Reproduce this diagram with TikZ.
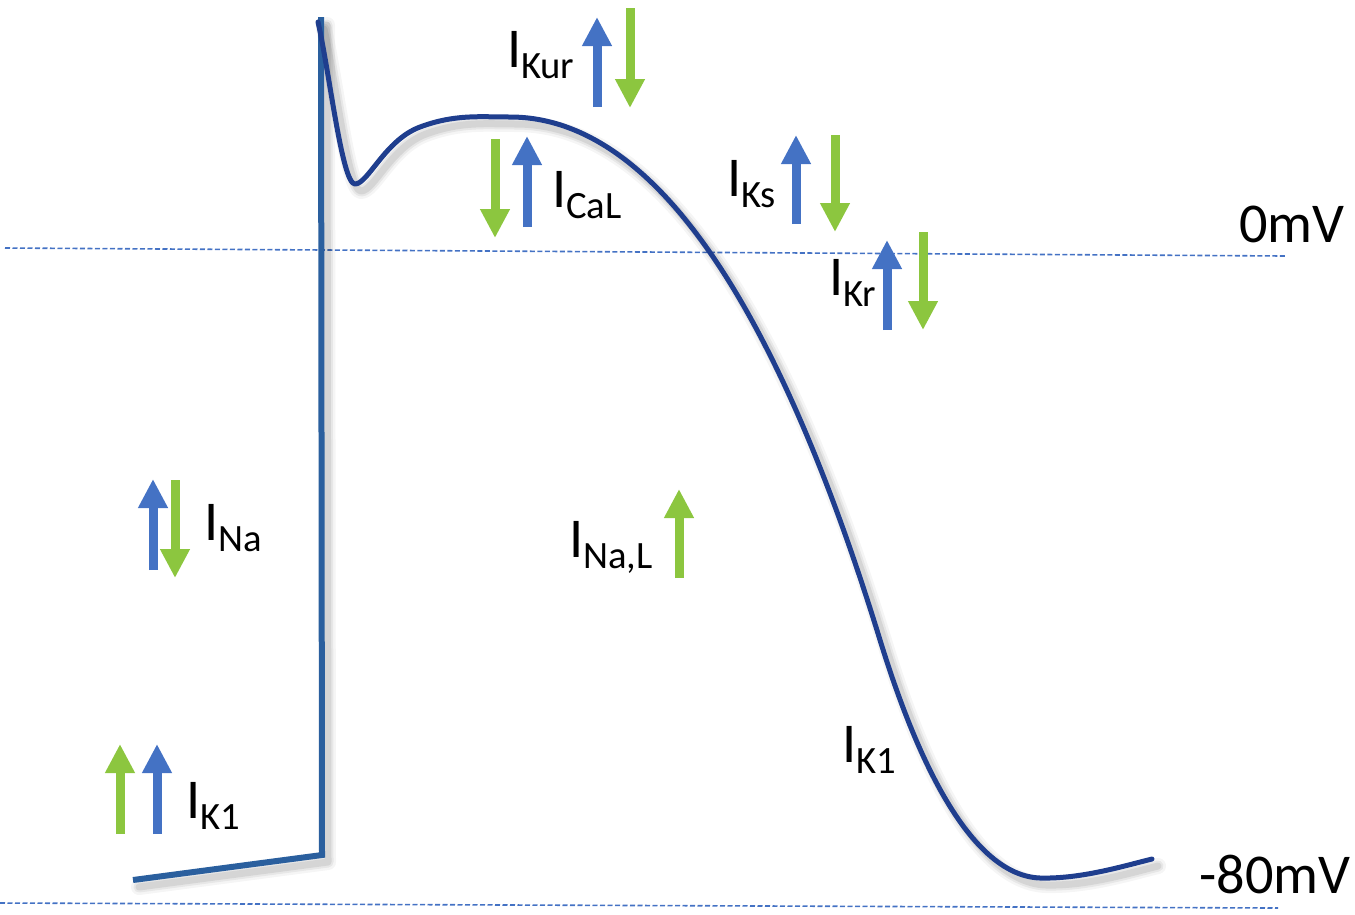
\documentclass[tikz,border=0pt]{standalone}
\usepackage{fontspec}
\setmainfont{Carlito}
\usetikzlibrary{arrows.meta}
\definecolor{curveblue}{HTML}{1F3E8E}
\definecolor{lineblue}{HTML}{2A5F9E}
\definecolor{dashblue}{HTML}{4472C4}
\definecolor{arrblue}{HTML}{4472C4}
\definecolor{arrgreen}{HTML}{8CC63F}
\newcommand{\curlab}[1]{{\fontsize{32}{34}\selectfont I}\raisebox{-6.4pt}{\fontsize{22}{24}\selectfont #1}}
\newcommand{\appath}{(318,22) .. controls (330,75) and (342,184) .. (355,184)
  .. controls (368,184) and (385,140) .. (420,127)
  .. controls (455,114) and (480,117) .. (510,117)
  .. controls (680,117) and (800,380) .. (880,640)
  .. controls (905,721) and (960,875) .. (1040,878)
  .. controls (1080,879) and (1120,867) .. (1152,859)}
\tikzset{
  curarrow/.style={line width=9*0.02cm, -{Triangle[width=28*0.02cm,length=29*0.02cm]}},
  bluearr/.style={curarrow, draw=arrblue},
  greenarr/.style={curarrow, draw=arrgreen},
  lab/.style={anchor=base west, inner sep=0pt, outer sep=0pt, text=black},
  mvlab/.style={anchor=base west, inner sep=0pt, font=\fontsize{32}{34}\selectfont},
  refline/.style={draw=dashblue, line width=1.6*0.02cm, dash pattern=on 5*0.02cm off 2.5*0.02cm},
  apcurve/.style={draw=curveblue, line width=5*0.02cm, line cap=round, line join=round},
  rest/.style={draw=lineblue, line width=6*0.02cm, line join=miter},
  shadowline/.style={draw=black, line cap=round, line join=round}
}
\begin{document}
\begin{tikzpicture}[x=0.02cm, y=-0.02cm]
\useasboundingbox (0,0) rectangle (1355,914);

% reference lines
\coordinate (z0) at (5,248);
\coordinate (z1) at (1285,256);
\coordinate (m0) at (0,903);
\coordinate (m1) at (1278,908);
\draw[refline] (z0) -- (z1);
\draw[refline] (m0) -- (m1);

% shadows
\foreach \w/\o in {16/0.04, 11/0.06, 7/0.08}{
  \draw[shadowline, line width=\w*0.02cm, opacity=\o, shift={(6,7)}] \appath;
  \draw[shadowline, line width=\w*0.02cm, opacity=\o, shift={(6,7)}]
    (133,880) -- (322,855) -- (321,18);
}

% resting potential and upstroke
\coordinate (r0) at (133,880);
\coordinate (r1) at (322,855);
\coordinate (r2) at (321,17);
\draw[rest] (r0) -- (r1) -- (r2);

% action potential curve
\draw[apcurve] \appath;

% arrows
\draw[bluearr]  (597,107) -- (597,17);
\draw[greenarr] (630,8) -- (630,108);
\draw[greenarr] (495,139) -- (495,238);
\draw[bluearr]  (527,227) -- (527,136);
\draw[bluearr]  (796,224) -- (796,135);
\draw[greenarr] (835,135) -- (835,232);
\draw[bluearr]  (887,330) -- (887,240);
\draw[greenarr] (923,232) -- (923,330);
\draw[bluearr]  (153,570) -- (153,479);
\draw[greenarr] (175,480) -- (175,578);
\draw[greenarr] (679,578) -- (679,489);
\draw[greenarr] (120,834) -- (120,744);
\draw[bluearr]  (157,834) -- (157,744);

% labels
\node[lab] (kur) at (507,67) {\curlab{Kur}};
\node[lab] (cal) at (552,207) {\curlab{CaL}};
\node[lab] (ks)  at (727,196) {\curlab{Ks}};
\node[lab] (kr)  at (829,295) {\curlab{Kr}};
\node[lab] (na)  at (204,540) {\curlab{Na}};
\node[lab] (nal) at (569,557) {\curlab{Na,L}};
\node[lab] (k1m) at (842,762) {\curlab{K1}};
\node[lab] (k1l) at (186,818) {\curlab{K1}};
\node[mvlab] (zero) at (1239,242) {0mV};
\node[mvlab] (minus) at (1199,893) {-80mV};
\end{tikzpicture}
\end{document}
